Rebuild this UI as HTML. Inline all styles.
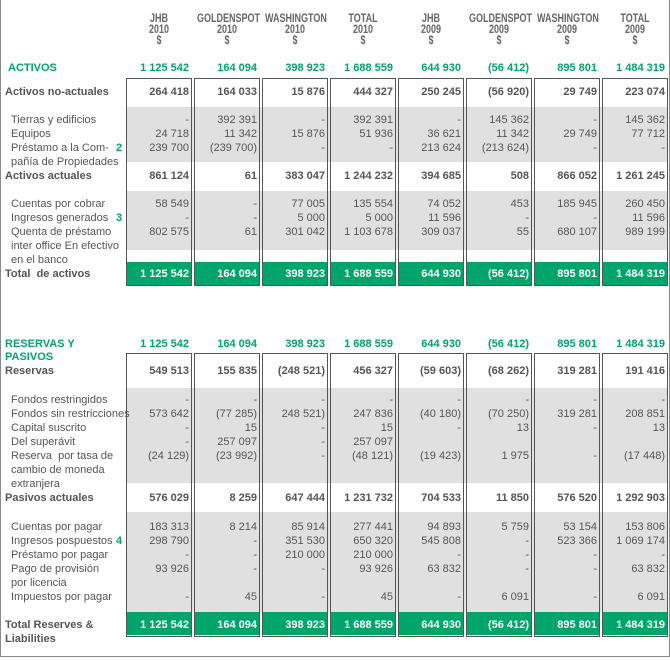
<!DOCTYPE html>
<html><head><meta charset="utf-8"><style>
body{margin:0;width:670px;height:662px;background:#fff;position:relative;overflow:hidden;font-family:"Liberation Sans",Arial,sans-serif;font-size:11px;color:#555}
.frame{position:absolute;left:0;top:0;width:668px;height:656px;border:1px solid #8a8a8a;border-top:none}
.g{position:absolute;left:126px;width:542px;background:#e0e0e0}
.box{position:absolute;width:64px;border:1px solid #555}
.gr{position:absolute;width:64px;height:23px;background:#00a56b}
.h{position:absolute;top:13px;width:80px;text-align:center;font-weight:bold;font-size:12px;line-height:11px;color:#666;transform:scaleX(0.75);transform-origin:center}
.r{position:absolute;left:0;width:670px;height:14px;line-height:14px;white-space:nowrap;margin-top:1px}
.r span{position:absolute;left:11px}
.r i{position:absolute;font-style:normal;width:63px;text-align:right}
.r i:nth-of-type(1){left:126px}.r i:nth-of-type(2){left:194px}.r i:nth-of-type(3){left:262px}.r i:nth-of-type(4){left:330px}
.r i:nth-of-type(5){left:398px}.r i:nth-of-type(6){left:466px}.r i:nth-of-type(7){left:534px}.r i:nth-of-type(8){left:602px}
.b{font-weight:bold}
.b span{left:5px}
.gt{color:#00a56b;font-weight:bold}
.gt span{left:8px}
.w{color:#fff;font-weight:bold}
.w span{left:5px;color:#555}
.n{position:absolute;left:116px;color:#00a56b;font-weight:bold}
</style></head><body>
<div class="frame"></div>
<div class="h" style="left:119px">JHB<br>2010<br>$</div>
<div class="h" style="left:187px">GOLDENSPOT<br>2010<br>$</div>
<div class="h" style="left:255px">WASHINGTON<br>2010<br>$</div>
<div class="h" style="left:323px">TOTAL<br>2010<br>$</div>
<div class="h" style="left:391px">JHB<br>2009<br>$</div>
<div class="h" style="left:459px">GOLDENSPOT<br>2009<br>$</div>
<div class="h" style="left:527px">WASHINGTON<br>2009<br>$</div>
<div class="h" style="left:595px">TOTAL<br>2009<br>$</div>

<div class="g" style="top:107px;height:55px"></div>
<div class="g" style="top:191px;height:59px"></div>
<div class="g" style="top:388px;height:95px"></div>
<div class="g" style="top:512px;height:100px"></div>

<div class="gr" style="left:127px;top:262px"></div><div class="gr" style="left:195px;top:262px"></div><div class="gr" style="left:263px;top:262px"></div><div class="gr" style="left:331px;top:262px"></div><div class="gr" style="left:399px;top:262px"></div><div class="gr" style="left:467px;top:262px"></div><div class="gr" style="left:535px;top:262px"></div><div class="gr" style="left:603px;top:262px"></div>
<div class="gr" style="left:127px;top:612px"></div><div class="gr" style="left:195px;top:612px"></div><div class="gr" style="left:263px;top:612px"></div><div class="gr" style="left:331px;top:612px"></div><div class="gr" style="left:399px;top:612px"></div><div class="gr" style="left:467px;top:612px"></div><div class="gr" style="left:535px;top:612px"></div><div class="gr" style="left:603px;top:612px"></div>

<div class="box" style="left:126px;top:78px;height:206px"></div><div class="box" style="left:194px;top:78px;height:206px"></div><div class="box" style="left:262px;top:78px;height:206px"></div><div class="box" style="left:330px;top:78px;height:206px"></div><div class="box" style="left:398px;top:78px;height:206px"></div><div class="box" style="left:466px;top:78px;height:206px"></div><div class="box" style="left:534px;top:78px;height:206px"></div><div class="box" style="left:602px;top:78px;height:206px"></div>
<div class="box" style="left:126px;top:353px;height:282px"></div><div class="box" style="left:194px;top:353px;height:282px"></div><div class="box" style="left:262px;top:353px;height:282px"></div><div class="box" style="left:330px;top:353px;height:282px"></div><div class="box" style="left:398px;top:353px;height:282px"></div><div class="box" style="left:466px;top:353px;height:282px"></div><div class="box" style="left:534px;top:353px;height:282px"></div><div class="box" style="left:602px;top:353px;height:282px"></div>

<div class="r gt" style="top:60px"><span>ACTIVOS</span><i>1 125 542</i><i>164 094</i><i>398 923</i><i>1 688 559</i><i>644 930</i><i>(56 412)</i><i>895 801</i><i>1 484 319</i></div>
<div class="r b" style="top:84px"><span>Activos no-actuales</span><i>264 418</i><i>164 033</i><i>15 876</i><i>444 327</i><i>250 245</i><i>(56 920)</i><i>29 749</i><i>223 074</i></div>
<div class="r" style="top:112px"><span>Tierras y edificios</span><i>-</i><i>392 391</i><i>-</i><i>392 391</i><i>-</i><i>145 362</i><i>-</i><i>145 362</i></div>
<div class="r" style="top:126px"><span>Equipos</span><i>24 718</i><i>11 342</i><i>15 876</i><i>51 936</i><i>36 621</i><i>11 342</i><i>29 749</i><i>77 712</i></div>
<div class="r" style="top:140px"><span>Préstamo a la Com-</span><b class="n">2</b><i>239 700</i><i>(239 700)</i><i>-</i><i>-</i><i>213 624</i><i>(213 624)</i><i>-</i><i>-</i></div>
<div class="r" style="top:154px"><span>pañía de Propiedades</span></div>
<div class="r b" style="top:168px"><span>Activos actuales</span><i>861 124</i><i>61</i><i>383 047</i><i>1 244 232</i><i>394 685</i><i>508</i><i>866 052</i><i>1 261 245</i></div>
<div class="r" style="top:196px"><span>Cuentas por cobrar</span><i>58 549</i><i>-</i><i>77 005</i><i>135 554</i><i>74 052</i><i>453</i><i>185 945</i><i>260 450</i></div>
<div class="r" style="top:210px"><span>Ingresos generados</span><b class="n">3</b><i>-</i><i>-</i><i>5 000</i><i>5 000</i><i>11 596</i><i>-</i><i>-</i><i>11 596</i></div>
<div class="r" style="top:224px"><span>Quenta de préstamo</span><i>802 575</i><i>61</i><i>301 042</i><i>1 103 678</i><i>309 037</i><i>55</i><i>680 107</i><i>989 199</i></div>
<div class="r" style="top:238px"><span>inter office En efectivo</span></div>
<div class="r" style="top:252px"><span>en el banco</span></div>
<div class="r w" style="top:266px"><span>Total&nbsp; de activos</span><i>1 125 542</i><i>164 094</i><i>398 923</i><i>1 688 559</i><i>644 930</i><i>(56 412)</i><i>895 801</i><i>1 484 319</i></div>

<div class="r gt" style="top:336px"><span style="left:5px">RESERVAS Y</span><i>1 125 542</i><i>164 094</i><i>398 923</i><i>1 688 559</i><i>644 930</i><i>(56 412)</i><i>895 801</i><i>1 484 319</i></div>
<div class="r gt" style="top:349px"><span style="left:5px">PASIVOS</span></div>
<div class="r b" style="top:363px"><span>Reservas</span><i>549 513</i><i>155 835</i><i>(248 521)</i><i>456 327</i><i>(59 603)</i><i>(68 262)</i><i>319 281</i><i>191 416</i></div>
<div class="r" style="top:392px"><span>Fondos restringidos</span><i>-</i><i>-</i><i>-</i><i>-</i><i>-</i><i>-</i><i>-</i><i>-</i></div>
<div class="r" style="top:406px"><span>Fondos sin restricciones</span><i>573 642</i><i>(77 285)</i><i>248 521)</i><i>247 836</i><i>(40 180)</i><i>(70 250)</i><i>319 281</i><i>208 851</i></div>
<div class="r" style="top:420px"><span>Capital suscrito</span><i>-</i><i>15</i><i>-</i><i>15</i><i>-</i><i>13</i><i>-</i><i>13</i></div>
<div class="r" style="top:434px"><span>Del superávit</span><i>-</i><i>257 097</i><i>-</i><i>257 097</i></div>
<div class="r" style="top:448px"><span>Reserva&nbsp; por tasa de</span><i>(24 129)</i><i>(23 992)</i><i>-</i><i>(48 121)</i><i>(19 423)</i><i>1 975</i><i>-</i><i>(17 448)</i></div>
<div class="r" style="top:462px"><span>cambio de moneda</span></div>
<div class="r" style="top:476px"><span>extranjera</span></div>
<div class="r b" style="top:490px"><span>Pasivos actuales</span><i>576 029</i><i>8 259</i><i>647 444</i><i>1 231 732</i><i>704 533</i><i>11 850</i><i>576 520</i><i>1 292 903</i></div>
<div class="r" style="top:519px"><span>Cuentas por pagar</span><i>183 313</i><i>8 214</i><i>85 914</i><i>277 441</i><i>94 893</i><i>5 759</i><i>53 154</i><i>153 806</i></div>
<div class="r" style="top:533px"><span>Ingresos pospuestos</span><b class="n">4</b><i>298 790</i><i>-</i><i>351 530</i><i>650 320</i><i>545 808</i><i>-</i><i>523 366</i><i>1 069 174</i></div>
<div class="r" style="top:547px"><span>Préstamo por pagar</span><i>-</i><i>-</i><i>210 000</i><i>210 000</i><i>-</i><i>-</i><i>-</i><i>-</i></div>
<div class="r" style="top:561px"><span>Pago de provisión</span><i>93 926</i><i>-</i><i>-</i><i>93 926</i><i>63 832</i><i>-</i><i>-</i><i>63 832</i></div>
<div class="r" style="top:575px"><span>por licencia</span></div>
<div class="r" style="top:589px"><span>Impuestos por pagar</span><i>-</i><i>45</i><i>-</i><i>45</i><i>-</i><i>6 091</i><i>-</i><i>6 091</i></div>
<div class="r w" style="top:617px"><span>Total Reserves &amp;</span><i>1 125 542</i><i>164 094</i><i>398 923</i><i>1 688 559</i><i>644 930</i><i>(56 412)</i><i>895 801</i><i>1 484 319</i></div>
<div class="r w" style="top:631px"><span>Liabilities</span></div>
</body></html>
